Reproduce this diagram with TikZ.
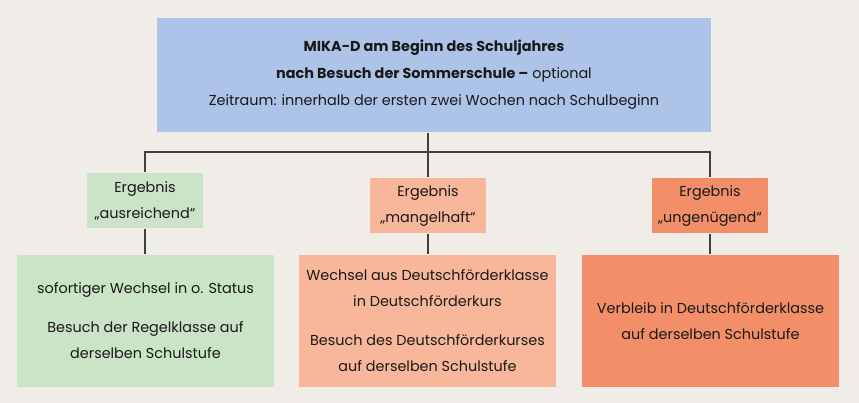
\documentclass[tikz,border=0pt]{standalone}
\usepackage{fontspec}
\setmainfont{Poppins}
\usetikzlibrary{positioning}
\definecolor{cbg}{HTML}{F0EDE8}
\definecolor{cblue}{HTML}{AEC3E8}
\definecolor{cgreen}{HTML}{CBE3C6}
\definecolor{cpeach}{HTML}{F8B79A}
\definecolor{ccoral}{HTML}{F28F69}
\definecolor{cline}{HTML}{3F3F3F}
\tikzset{
  every picture/.style={line width=1.2pt},
  box/.style={fill=#1, align=center, inner sep=0pt, text=black!90, font=\fontsize{14.4}{26}\selectfont},
  result/.style={box=#1, minimum width=116pt, minimum height=55pt},
  action/.style={box=#1, minimum width=257pt, minimum height=132pt},
  link/.style={draw=cline, line width=1.2pt},
}

\begin{document}
\begin{tikzpicture}[x=1pt, y=-1pt]
  \fill[cbg] (0,0) rectangle (859,403);
  \useasboundingbox (0,0) rectangle (859,403);
  \node[box=cblue, minimum width=554pt, minimum height=114pt, font=\fontsize{14.4}{27}\selectfont] (start) at (434,75)
    {{\bfseries MIKA-D am Beginn des Schuljahres}\\
     {\bfseries nach Besuch der Sommerschule –} optional\\
     Zeitraum: innerhalb der ersten zwei Wochen nach Schulbeginn};
  \node[result=cgreen] (res1) at (145,200.5) {Ergebnis\\„ausreichend“};
  \node[result=cpeach] (res2) at (428,205.5) {Ergebnis\\„mangelhaft“};
  \node[result=ccoral] (res3) at (710,205.5) {Ergebnis\\„ungenügend“};
  \node[action=cgreen] (act1) at (145.5,321)
    {sofortiger Wechsel in o. Status\\[13pt] Besuch der Regelklasse auf\\ derselben Schulstufe};
  \node[action=cpeach] (act2) at (427.5,321)
    {Wechsel aus Deutschförderklasse\\ in Deutschförderkurs\\[13pt] Besuch des Deutschförderkurses\\ auf derselben Schulstufe};
  \node[action=ccoral] (act3) at (710.5,321)
    {Verbleib in Deutschförderklasse\\ auf derselben Schulstufe};
  \coordinate (split) at (428,152);
  \draw[link] (res1.north) |- (split) -| (res3.north);
  \draw[link] (start.south -| res2.north) -- (res2.north);
  \draw[link] (res1.south) -- (res1.south |- act1.north);
  \draw[link] (res2.south) -- (res2.south |- act2.north);
  \draw[link] (res3.south) -- (res3.south |- act3.north);
\end{tikzpicture}
\end{document}
